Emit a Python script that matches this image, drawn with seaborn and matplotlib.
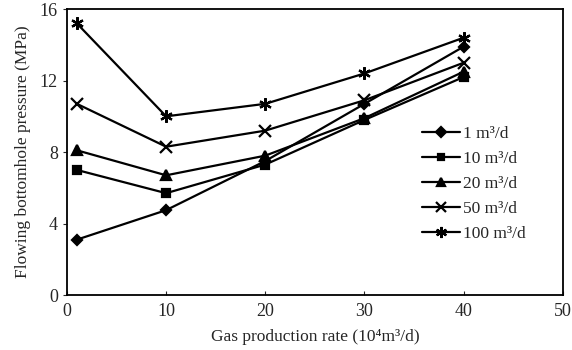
import numpy as np
import pandas as pd
import matplotlib
matplotlib.use("Agg")
import matplotlib.pyplot as plt
import seaborn as sns

# gas production rate (10^4 m3/d)
rate = [1, 10, 20, 30, 40]
# flowing bottomhole pressure (MPa) for each water production rate
p_1 = [3.1, 4.75, 7.5, 10.7, 13.9]
p_10 = [7.0, 5.7, 7.3, 9.8, 12.2]
p_20 = [8.1, 6.7, 7.8, 9.9, 12.5]
p_50 = [10.7, 8.3, 9.2, 10.9, 13.0]
p_100 = [15.2, 10.0, 10.7, 12.4, 14.4]
labels = ["1 m³/d", "10 m³/d", "20 m³/d", "50 m³/d", "100 m³/d"]

sns.set_style("ticks")
plt.rcParams["font.family"] = ["Liberation Serif", "DejaVu Serif"]

fig = plt.figure(figsize=(5.72, 3.5), dpi=100)
ax = fig.add_axes([0.117, 0.157, 0.867, 0.817])

markers = ["D", "s", "^", "x", (6, 2, 0)]
sizes = [5, 6, 7, 8, 9]
leg_sizes = [5, 5, 6, 7, 8]

for lab, vals, m, ms in zip(labels, [p_1, p_10, p_20, p_50, p_100], markers, sizes):
    sns.lineplot(x=rate, y=vals, color="black", marker=m, markersize=ms,
                 markeredgewidth=1.6, markeredgecolor="black",
                 linewidth=1.6, label=lab, ax=ax)

ax.set_xlim(0, 50)
ax.set_ylim(0, 16)
ax.set_xticks([0, 10, 20, 30, 40, 50])
ax.set_yticks([0, 4, 8, 12, 16])
ax.set_xlabel("Gas production rate (10⁴m³/d)", fontsize=12.5, labelpad=6)
ax.set_ylabel("Flowing bottomhole pressure (MPa)", fontsize=12.5, labelpad=6)
ax.tick_params(axis="x", direction="in", length=3, labelsize=13, pad=6)
ax.tick_params(axis="y", direction="out", length=3, labelsize=13)
for s in ax.spines.values():
    s.set_linewidth(1.3)
    s.set_color("black")
    s.set_visible(True)

leg = ax.legend(loc="upper left", bbox_to_anchor=(0.685, 0.645), frameon=False,
                fontsize=12.5, handlelength=2.2, labelspacing=0.5,
                handletextpad=0.15)
for h, s in zip(leg.legend_handles, leg_sizes):
    h.set_markersize(s)

fig.savefig("out.png", dpi=100)
